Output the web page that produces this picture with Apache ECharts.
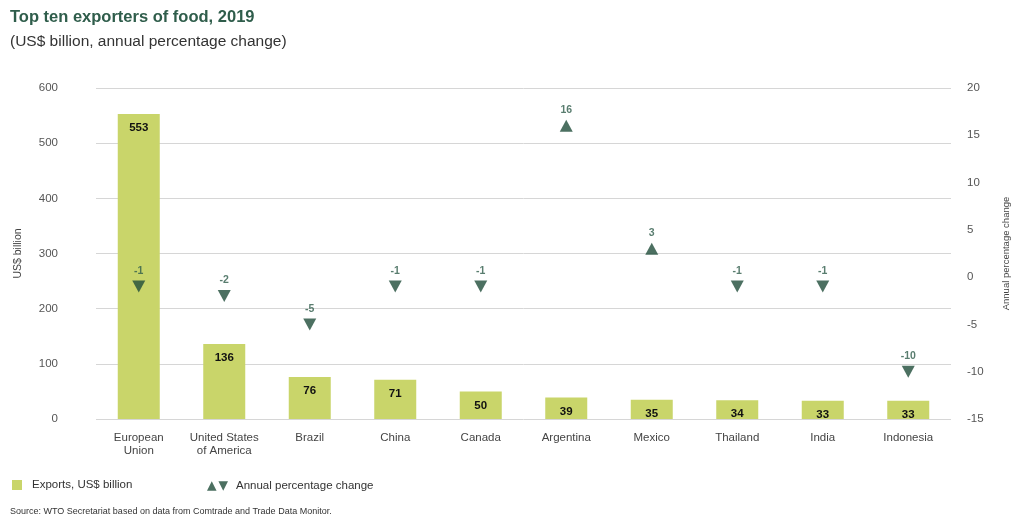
<!DOCTYPE html>
<html><head><meta charset="utf-8">
<script src="https://cdn.jsdelivr.net/npm/echarts@6/dist/echarts.min.js"></script>
<style>html,body{margin:0;padding:0;background:#fff;overflow:hidden}#c{width:1019px;height:520px}</style>
</head><body><div id="c"></div>
<script>
const categories = ['European\nUnion','United States\nof America','Brazil','China','Canada','Argentina','Mexico','Thailand','India','Indonesia'];
const exportsValues = [553, 136, 76, 71, 50, 39, 35, 34, 33, 33];
const changeValues = [-1, -2, -5, -1, -1, 16, 3, -1, -1, -10];
const leftTicks = [0, 600, 100];
const rightTicks = [-15, 20, 5];

const FONT = '"Liberation Sans", Arial, sans-serif';
const BAR = '#c9d56a';
const TRI = '#1f4c3a';

const chart = echarts.init(document.getElementById('c'));
chart.setOption({
  animation: false,
  textStyle: { fontFamily: FONT },
  title: [
    { text: 'Top ten exporters of food, 2019', left: 5, top: 4,
      textStyle: { fontFamily: FONT, fontSize: 16.5, fontWeight: 'bold', color: '#2f5d4b' } },
    { text: '(US$ billion, annual percentage change)', left: 5, top: 29,
      textStyle: { fontFamily: FONT, fontSize: 15.5, fontWeight: 'normal', color: '#333' } },
    { text: 'Source: WTO Secretariat based on data from Comtrade and Trade Data Monitor.', left: 5, top: 502,
      textStyle: { fontFamily: FONT, fontSize: 9, fontWeight: 'normal', color: '#333' } }
  ],
  legend: [
    { data: [{ name: 'Exports, US$ billion', icon: 'rect' }], left: 7, top: 474,
      itemWidth: 10, itemHeight: 10, itemGap: 10,
      textStyle: { fontFamily: FONT, fontSize: 11.5, color: '#333', padding: [0, 0, 0, 5] } },
    { data: [{ name: 'Annual percentage change', icon: 'path://M0,10L5,0L10,10Z M12,0L22,0L17,10Z' }], left: 202, top: 475,
      itemWidth: 21, itemHeight: 10,
      textStyle: { fontFamily: FONT, fontSize: 11.5, color: '#333', padding: [0, 0, 0, 3] } }
  ],
  grid: { left: 96, right: 52, top: 88, bottom: 101 },
  xAxis: {
    type: 'category', data: categories,
    axisLine: { show: false }, axisTick: { show: false },
    axisLabel: { color: '#444', fontSize: 11.5, margin: 12, lineHeight: 13, interval: 0 }
  },
  yAxis: [
    { type: 'value', min: leftTicks[0], max: leftTicks[1], interval: leftTicks[2],
      name: 'US$ billion', nameLocation: 'middle', nameGap: 72, nameRotate: 90,
      nameTextStyle: { color: '#444', fontSize: 10.5 },
      axisLine: { show: false }, axisTick: { show: false },
      axisLabel: { color: '#555', fontSize: 11.5, margin: 38 },
      splitLine: { lineStyle: { color: '#d6d6d6', width: 1 } } },
    { type: 'value', min: rightTicks[0], max: rightTicks[1], interval: rightTicks[2], position: 'right',
      name: 'Annual percentage change', nameLocation: 'middle', nameGap: 50, nameRotate: 90,
      nameTextStyle: { color: '#444', fontSize: 9.5 },
      axisLine: { show: false }, axisTick: { show: false },
      axisLabel: { color: '#555', fontSize: 11.5, margin: 16 },
      splitLine: { show: false } }
  ],
  series: [
    { name: 'Exports, US$ billion', type: 'bar', yAxisIndex: 0, data: exportsValues,
      barWidth: 42, itemStyle: { color: BAR },
      label: { show: true, position: 'insideTop', distance: 8, color: '#111', fontWeight: 'bold', fontSize: 11.5 } },
    { name: 'Annual percentage change', type: 'scatter', yAxisIndex: 1,
      data: changeValues.map(v => ({ value: v, symbolRotate: v < 0 ? 180 : 0 })),
      symbol: 'triangle', symbolSize: [13, 12],
      itemStyle: { color: TRI },
      label: { show: true, position: 'top', distance: 4, color: '#2f5d4b', fontWeight: 'bold', fontSize: 10.5,
        formatter: p => String(p.value) } }
  ]
});
</script></body></html>
